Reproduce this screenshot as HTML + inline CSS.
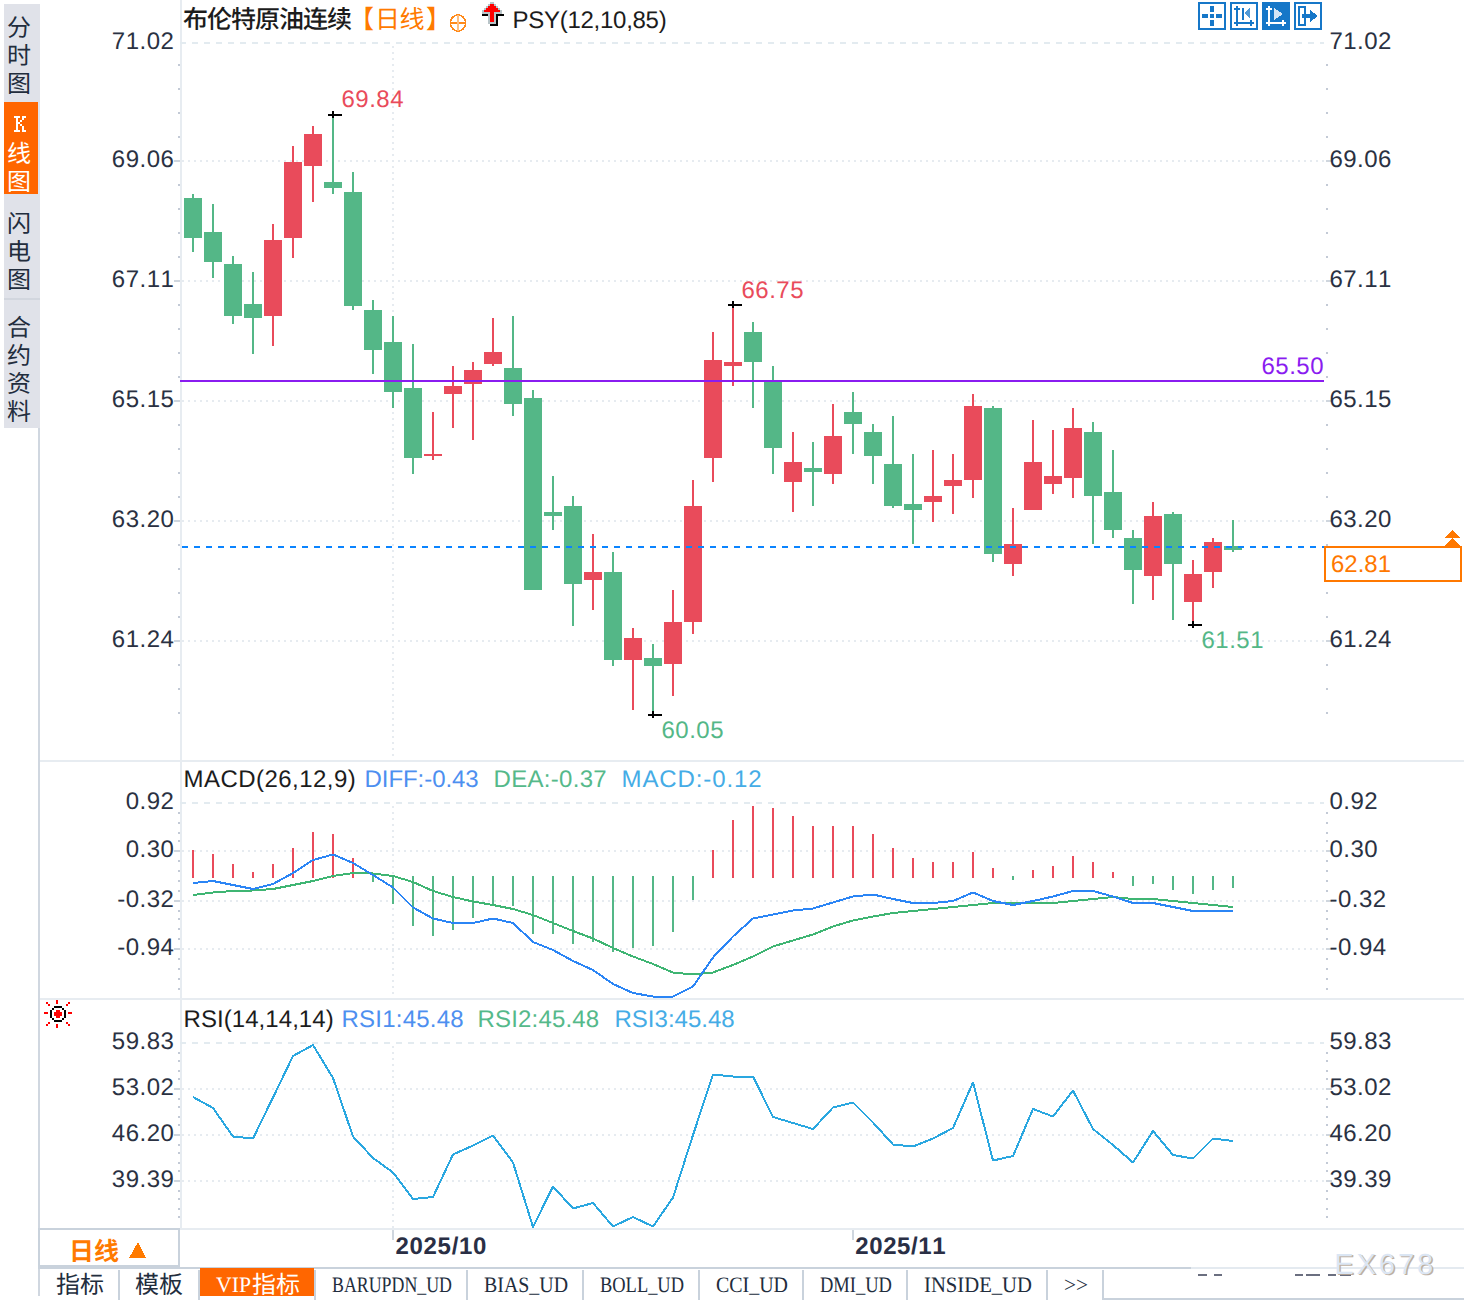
<!DOCTYPE html>
<html><head><meta charset="utf-8"><title>chart</title>
<style>html,body{margin:0;padding:0;background:#fff;}body{width:1464px;height:1300px;overflow:hidden;font-family:"Liberation Sans",sans-serif;}svg{display:block}</style>
</head><body><svg width="1464" height="1300" viewBox="0 0 1464 1300" shape-rendering="crispEdges" text-rendering="geometricPrecision"><rect x="0" y="0" width="1464" height="1300" fill="#ffffff"/>
<rect x="4" y="4" width="36" height="424" fill="#e0e2e9"/>
<rect x="4" y="298" width="36" height="2" fill="#d2d6de"/>
<rect x="4" y="102" width="34" height="92" fill="#ff6600"/>
<rect x="38" y="102" width="2" height="92" fill="#dde4ee"/>
<rect x="38" y="428" width="2" height="868" fill="#d0d7e0"/>
<text x="7" y="36" font-family="Liberation Sans, Noto Sans CJK SC, sans-serif" font-size="24" fill="#222d3d" text-anchor="start">分</text>
<text x="7" y="64" font-family="Liberation Sans, Noto Sans CJK SC, sans-serif" font-size="24" fill="#222d3d" text-anchor="start">时</text>
<text x="7" y="92" font-family="Liberation Sans, Noto Sans CJK SC, sans-serif" font-size="24" fill="#222d3d" text-anchor="start">图</text>
<text x="7" y="162" font-family="Liberation Sans, Noto Sans CJK SC, sans-serif" font-size="24" fill="#ffffff" text-anchor="start">线</text>
<text x="7" y="190" font-family="Liberation Sans, Noto Sans CJK SC, sans-serif" font-size="24" fill="#ffffff" text-anchor="start">图</text>
<text x="7" y="232" font-family="Liberation Sans, Noto Sans CJK SC, sans-serif" font-size="24" fill="#222d3d" text-anchor="start">闪</text>
<text x="7" y="260" font-family="Liberation Sans, Noto Sans CJK SC, sans-serif" font-size="24" fill="#222d3d" text-anchor="start">电</text>
<text x="7" y="288" font-family="Liberation Sans, Noto Sans CJK SC, sans-serif" font-size="24" fill="#222d3d" text-anchor="start">图</text>
<text x="7" y="336" font-family="Liberation Sans, Noto Sans CJK SC, sans-serif" font-size="24" fill="#222d3d" text-anchor="start">合</text>
<text x="7" y="364" font-family="Liberation Sans, Noto Sans CJK SC, sans-serif" font-size="24" fill="#222d3d" text-anchor="start">约</text>
<text x="7" y="392" font-family="Liberation Sans, Noto Sans CJK SC, sans-serif" font-size="24" fill="#222d3d" text-anchor="start">资</text>
<text x="7" y="420" font-family="Liberation Sans, Noto Sans CJK SC, sans-serif" font-size="24" fill="#222d3d" text-anchor="start">料</text>
<rect x="180" y="0" width="2" height="1228" fill="#e7ecf1"/>
<rect x="40" y="760" width="1424" height="2" fill="#e7ecf1"/>
<rect x="40" y="998" width="1424" height="2" fill="#e7ecf1"/>
<rect x="40" y="1228" width="1424" height="2" fill="#e7ecf1"/>
<line x1="180" y1="43" x2="1324" y2="43" stroke="#e3ebf0" stroke-width="2" stroke-dasharray="6 6"/>
<line x1="182" y1="161" x2="1324" y2="161" stroke="#e6ebf0" stroke-width="2" stroke-dasharray="2 4"/>
<line x1="182" y1="281" x2="1324" y2="281" stroke="#e6ebf0" stroke-width="2" stroke-dasharray="2 4"/>
<line x1="182" y1="401" x2="1324" y2="401" stroke="#e6ebf0" stroke-width="2" stroke-dasharray="2 4"/>
<line x1="182" y1="521" x2="1324" y2="521" stroke="#e6ebf0" stroke-width="2" stroke-dasharray="2 4"/>
<line x1="182" y1="641" x2="1324" y2="641" stroke="#e6ebf0" stroke-width="2" stroke-dasharray="2 4"/>
<line x1="180" y1="803" x2="1324" y2="803" stroke="#e3ebf0" stroke-width="2" stroke-dasharray="6 6"/>
<line x1="182" y1="851" x2="1324" y2="851" stroke="#e6ebf0" stroke-width="2" stroke-dasharray="2 4"/>
<line x1="182" y1="901" x2="1324" y2="901" stroke="#e6ebf0" stroke-width="2" stroke-dasharray="2 4"/>
<line x1="182" y1="949" x2="1324" y2="949" stroke="#e6ebf0" stroke-width="2" stroke-dasharray="2 4"/>
<line x1="180" y1="1043" x2="1324" y2="1043" stroke="#e3ebf0" stroke-width="2" stroke-dasharray="6 6"/>
<line x1="182" y1="1089" x2="1324" y2="1089" stroke="#e6ebf0" stroke-width="2" stroke-dasharray="2 4"/>
<line x1="182" y1="1135" x2="1324" y2="1135" stroke="#e6ebf0" stroke-width="2" stroke-dasharray="2 4"/>
<line x1="182" y1="1181" x2="1324" y2="1181" stroke="#e6ebf0" stroke-width="2" stroke-dasharray="2 4"/>
<line x1="393" y1="46" x2="393" y2="760" stroke="#e6ebf0" stroke-width="2" stroke-dasharray="2 4"/>
<line x1="393" y1="806" x2="393" y2="998" stroke="#e6ebf0" stroke-width="2" stroke-dasharray="2 4"/>
<line x1="393" y1="1046" x2="393" y2="1228" stroke="#e6ebf0" stroke-width="2" stroke-dasharray="2 4"/>
<rect x="178" y="64" width="2" height="2" fill="#c3cad6"/>
<rect x="1326" y="64" width="2" height="2" fill="#c3cad6"/>
<rect x="178" y="88" width="2" height="2" fill="#c3cad6"/>
<rect x="1326" y="88" width="2" height="2" fill="#c3cad6"/>
<rect x="178" y="112" width="2" height="2" fill="#c3cad6"/>
<rect x="1326" y="112" width="2" height="2" fill="#c3cad6"/>
<rect x="178" y="136" width="2" height="2" fill="#c3cad6"/>
<rect x="1326" y="136" width="2" height="2" fill="#c3cad6"/>
<rect x="174" y="160" width="6" height="2" fill="#cfd6de"/>
<rect x="1326" y="160" width="6" height="2" fill="#cfd6de"/>
<rect x="178" y="184" width="2" height="2" fill="#c3cad6"/>
<rect x="1326" y="184" width="2" height="2" fill="#c3cad6"/>
<rect x="178" y="208" width="2" height="2" fill="#c3cad6"/>
<rect x="1326" y="208" width="2" height="2" fill="#c3cad6"/>
<rect x="178" y="232" width="2" height="2" fill="#c3cad6"/>
<rect x="1326" y="232" width="2" height="2" fill="#c3cad6"/>
<rect x="178" y="256" width="2" height="2" fill="#c3cad6"/>
<rect x="1326" y="256" width="2" height="2" fill="#c3cad6"/>
<rect x="174" y="280" width="6" height="2" fill="#cfd6de"/>
<rect x="1326" y="280" width="6" height="2" fill="#cfd6de"/>
<rect x="178" y="304" width="2" height="2" fill="#c3cad6"/>
<rect x="1326" y="304" width="2" height="2" fill="#c3cad6"/>
<rect x="178" y="328" width="2" height="2" fill="#c3cad6"/>
<rect x="1326" y="328" width="2" height="2" fill="#c3cad6"/>
<rect x="178" y="352" width="2" height="2" fill="#c3cad6"/>
<rect x="1326" y="352" width="2" height="2" fill="#c3cad6"/>
<rect x="178" y="376" width="2" height="2" fill="#c3cad6"/>
<rect x="1326" y="376" width="2" height="2" fill="#c3cad6"/>
<rect x="174" y="400" width="6" height="2" fill="#cfd6de"/>
<rect x="1326" y="400" width="6" height="2" fill="#cfd6de"/>
<rect x="178" y="424" width="2" height="2" fill="#c3cad6"/>
<rect x="1326" y="424" width="2" height="2" fill="#c3cad6"/>
<rect x="178" y="448" width="2" height="2" fill="#c3cad6"/>
<rect x="1326" y="448" width="2" height="2" fill="#c3cad6"/>
<rect x="178" y="472" width="2" height="2" fill="#c3cad6"/>
<rect x="1326" y="472" width="2" height="2" fill="#c3cad6"/>
<rect x="178" y="496" width="2" height="2" fill="#c3cad6"/>
<rect x="1326" y="496" width="2" height="2" fill="#c3cad6"/>
<rect x="174" y="520" width="6" height="2" fill="#cfd6de"/>
<rect x="1326" y="520" width="6" height="2" fill="#cfd6de"/>
<rect x="178" y="544" width="2" height="2" fill="#c3cad6"/>
<rect x="1326" y="544" width="2" height="2" fill="#c3cad6"/>
<rect x="178" y="568" width="2" height="2" fill="#c3cad6"/>
<rect x="1326" y="568" width="2" height="2" fill="#c3cad6"/>
<rect x="178" y="592" width="2" height="2" fill="#c3cad6"/>
<rect x="1326" y="592" width="2" height="2" fill="#c3cad6"/>
<rect x="178" y="616" width="2" height="2" fill="#c3cad6"/>
<rect x="1326" y="616" width="2" height="2" fill="#c3cad6"/>
<rect x="174" y="640" width="6" height="2" fill="#cfd6de"/>
<rect x="1326" y="640" width="6" height="2" fill="#cfd6de"/>
<rect x="178" y="664" width="2" height="2" fill="#c3cad6"/>
<rect x="1326" y="664" width="2" height="2" fill="#c3cad6"/>
<rect x="178" y="688" width="2" height="2" fill="#c3cad6"/>
<rect x="1326" y="688" width="2" height="2" fill="#c3cad6"/>
<rect x="178" y="712" width="2" height="2" fill="#c3cad6"/>
<rect x="1326" y="712" width="2" height="2" fill="#c3cad6"/>
<rect x="178" y="812" width="2" height="2" fill="#c3cad6"/>
<rect x="1326" y="812" width="2" height="2" fill="#c3cad6"/>
<rect x="178" y="822" width="2" height="2" fill="#c3cad6"/>
<rect x="1326" y="822" width="2" height="2" fill="#c3cad6"/>
<rect x="178" y="832" width="2" height="2" fill="#c3cad6"/>
<rect x="1326" y="832" width="2" height="2" fill="#c3cad6"/>
<rect x="178" y="840" width="2" height="2" fill="#c3cad6"/>
<rect x="1326" y="840" width="2" height="2" fill="#c3cad6"/>
<rect x="174" y="850" width="6" height="2" fill="#cfd6de"/>
<rect x="1326" y="850" width="6" height="2" fill="#cfd6de"/>
<rect x="178" y="860" width="2" height="2" fill="#c3cad6"/>
<rect x="1326" y="860" width="2" height="2" fill="#c3cad6"/>
<rect x="178" y="870" width="2" height="2" fill="#c3cad6"/>
<rect x="1326" y="870" width="2" height="2" fill="#c3cad6"/>
<rect x="178" y="880" width="2" height="2" fill="#c3cad6"/>
<rect x="1326" y="880" width="2" height="2" fill="#c3cad6"/>
<rect x="178" y="890" width="2" height="2" fill="#c3cad6"/>
<rect x="1326" y="890" width="2" height="2" fill="#c3cad6"/>
<rect x="174" y="900" width="6" height="2" fill="#cfd6de"/>
<rect x="1326" y="900" width="6" height="2" fill="#cfd6de"/>
<rect x="178" y="910" width="2" height="2" fill="#c3cad6"/>
<rect x="1326" y="910" width="2" height="2" fill="#c3cad6"/>
<rect x="178" y="918" width="2" height="2" fill="#c3cad6"/>
<rect x="1326" y="918" width="2" height="2" fill="#c3cad6"/>
<rect x="178" y="928" width="2" height="2" fill="#c3cad6"/>
<rect x="1326" y="928" width="2" height="2" fill="#c3cad6"/>
<rect x="178" y="938" width="2" height="2" fill="#c3cad6"/>
<rect x="1326" y="938" width="2" height="2" fill="#c3cad6"/>
<rect x="174" y="948" width="6" height="2" fill="#cfd6de"/>
<rect x="1326" y="948" width="6" height="2" fill="#cfd6de"/>
<rect x="178" y="958" width="2" height="2" fill="#c3cad6"/>
<rect x="1326" y="958" width="2" height="2" fill="#c3cad6"/>
<rect x="178" y="968" width="2" height="2" fill="#c3cad6"/>
<rect x="1326" y="968" width="2" height="2" fill="#c3cad6"/>
<rect x="178" y="978" width="2" height="2" fill="#c3cad6"/>
<rect x="1326" y="978" width="2" height="2" fill="#c3cad6"/>
<rect x="178" y="988" width="2" height="2" fill="#c3cad6"/>
<rect x="1326" y="988" width="2" height="2" fill="#c3cad6"/>
<rect x="178" y="1052" width="2" height="2" fill="#c3cad6"/>
<rect x="1326" y="1052" width="2" height="2" fill="#c3cad6"/>
<rect x="178" y="1060" width="2" height="2" fill="#c3cad6"/>
<rect x="1326" y="1060" width="2" height="2" fill="#c3cad6"/>
<rect x="178" y="1070" width="2" height="2" fill="#c3cad6"/>
<rect x="1326" y="1070" width="2" height="2" fill="#c3cad6"/>
<rect x="178" y="1078" width="2" height="2" fill="#c3cad6"/>
<rect x="1326" y="1078" width="2" height="2" fill="#c3cad6"/>
<rect x="174" y="1088" width="6" height="2" fill="#cfd6de"/>
<rect x="1326" y="1088" width="6" height="2" fill="#cfd6de"/>
<rect x="178" y="1098" width="2" height="2" fill="#c3cad6"/>
<rect x="1326" y="1098" width="2" height="2" fill="#c3cad6"/>
<rect x="178" y="1106" width="2" height="2" fill="#c3cad6"/>
<rect x="1326" y="1106" width="2" height="2" fill="#c3cad6"/>
<rect x="178" y="1116" width="2" height="2" fill="#c3cad6"/>
<rect x="1326" y="1116" width="2" height="2" fill="#c3cad6"/>
<rect x="178" y="1124" width="2" height="2" fill="#c3cad6"/>
<rect x="1326" y="1124" width="2" height="2" fill="#c3cad6"/>
<rect x="174" y="1134" width="6" height="2" fill="#cfd6de"/>
<rect x="1326" y="1134" width="6" height="2" fill="#cfd6de"/>
<rect x="178" y="1144" width="2" height="2" fill="#c3cad6"/>
<rect x="1326" y="1144" width="2" height="2" fill="#c3cad6"/>
<rect x="178" y="1152" width="2" height="2" fill="#c3cad6"/>
<rect x="1326" y="1152" width="2" height="2" fill="#c3cad6"/>
<rect x="178" y="1162" width="2" height="2" fill="#c3cad6"/>
<rect x="1326" y="1162" width="2" height="2" fill="#c3cad6"/>
<rect x="178" y="1170" width="2" height="2" fill="#c3cad6"/>
<rect x="1326" y="1170" width="2" height="2" fill="#c3cad6"/>
<rect x="174" y="1180" width="6" height="2" fill="#cfd6de"/>
<rect x="1326" y="1180" width="6" height="2" fill="#cfd6de"/>
<rect x="178" y="1190" width="2" height="2" fill="#c3cad6"/>
<rect x="1326" y="1190" width="2" height="2" fill="#c3cad6"/>
<rect x="178" y="1198" width="2" height="2" fill="#c3cad6"/>
<rect x="1326" y="1198" width="2" height="2" fill="#c3cad6"/>
<rect x="178" y="1208" width="2" height="2" fill="#c3cad6"/>
<rect x="1326" y="1208" width="2" height="2" fill="#c3cad6"/>
<rect x="178" y="1216" width="2" height="2" fill="#c3cad6"/>
<rect x="1326" y="1216" width="2" height="2" fill="#c3cad6"/>
<text x="174.4" y="49.1" font-family="Liberation Sans, sans-serif" font-size="24" fill="#2a3142" text-anchor="end" font-weight="normal" style="font-kerning:none" letter-spacing="0.5">71.02</text>
<text x="1329.4" y="49.1" font-family="Liberation Sans, sans-serif" font-size="24" fill="#2a3142" text-anchor="start" font-weight="normal" style="font-kerning:none" letter-spacing="0.5">71.02</text>
<text x="174.4" y="167.1" font-family="Liberation Sans, sans-serif" font-size="24" fill="#2a3142" text-anchor="end" font-weight="normal" style="font-kerning:none" letter-spacing="0.5">69.06</text>
<text x="1329.4" y="167.1" font-family="Liberation Sans, sans-serif" font-size="24" fill="#2a3142" text-anchor="start" font-weight="normal" style="font-kerning:none" letter-spacing="0.5">69.06</text>
<text x="174.4" y="287.1" font-family="Liberation Sans, sans-serif" font-size="24" fill="#2a3142" text-anchor="end" font-weight="normal" style="font-kerning:none" letter-spacing="0.5">67.11</text>
<text x="1329.4" y="287.1" font-family="Liberation Sans, sans-serif" font-size="24" fill="#2a3142" text-anchor="start" font-weight="normal" style="font-kerning:none" letter-spacing="0.5">67.11</text>
<text x="174.4" y="407.1" font-family="Liberation Sans, sans-serif" font-size="24" fill="#2a3142" text-anchor="end" font-weight="normal" style="font-kerning:none" letter-spacing="0.5">65.15</text>
<text x="1329.4" y="407.1" font-family="Liberation Sans, sans-serif" font-size="24" fill="#2a3142" text-anchor="start" font-weight="normal" style="font-kerning:none" letter-spacing="0.5">65.15</text>
<text x="174.4" y="527.1" font-family="Liberation Sans, sans-serif" font-size="24" fill="#2a3142" text-anchor="end" font-weight="normal" style="font-kerning:none" letter-spacing="0.5">63.20</text>
<text x="1329.4" y="527.1" font-family="Liberation Sans, sans-serif" font-size="24" fill="#2a3142" text-anchor="start" font-weight="normal" style="font-kerning:none" letter-spacing="0.5">63.20</text>
<text x="174.4" y="647.1" font-family="Liberation Sans, sans-serif" font-size="24" fill="#2a3142" text-anchor="end" font-weight="normal" style="font-kerning:none" letter-spacing="0.5">61.24</text>
<text x="1329.4" y="647.1" font-family="Liberation Sans, sans-serif" font-size="24" fill="#2a3142" text-anchor="start" font-weight="normal" style="font-kerning:none" letter-spacing="0.5">61.24</text>
<text x="174.4" y="809.1" font-family="Liberation Sans, sans-serif" font-size="24" fill="#2a3142" text-anchor="end" font-weight="normal" style="font-kerning:none" letter-spacing="0.5">0.92</text>
<text x="1329.4" y="809.1" font-family="Liberation Sans, sans-serif" font-size="24" fill="#2a3142" text-anchor="start" font-weight="normal" style="font-kerning:none" letter-spacing="0.5">0.92</text>
<text x="174.4" y="857.1" font-family="Liberation Sans, sans-serif" font-size="24" fill="#2a3142" text-anchor="end" font-weight="normal" style="font-kerning:none" letter-spacing="0.5">0.30</text>
<text x="1329.4" y="857.1" font-family="Liberation Sans, sans-serif" font-size="24" fill="#2a3142" text-anchor="start" font-weight="normal" style="font-kerning:none" letter-spacing="0.5">0.30</text>
<text x="174.4" y="907.1" font-family="Liberation Sans, sans-serif" font-size="24" fill="#2a3142" text-anchor="end" font-weight="normal" style="font-kerning:none" letter-spacing="0.5">-0.32</text>
<text x="1329.4" y="907.1" font-family="Liberation Sans, sans-serif" font-size="24" fill="#2a3142" text-anchor="start" font-weight="normal" style="font-kerning:none" letter-spacing="0.5">-0.32</text>
<text x="174.4" y="955.1" font-family="Liberation Sans, sans-serif" font-size="24" fill="#2a3142" text-anchor="end" font-weight="normal" style="font-kerning:none" letter-spacing="0.5">-0.94</text>
<text x="1329.4" y="955.1" font-family="Liberation Sans, sans-serif" font-size="24" fill="#2a3142" text-anchor="start" font-weight="normal" style="font-kerning:none" letter-spacing="0.5">-0.94</text>
<text x="174.4" y="1049.1" font-family="Liberation Sans, sans-serif" font-size="24" fill="#2a3142" text-anchor="end" font-weight="normal" style="font-kerning:none" letter-spacing="0.5">59.83</text>
<text x="1329.4" y="1049.1" font-family="Liberation Sans, sans-serif" font-size="24" fill="#2a3142" text-anchor="start" font-weight="normal" style="font-kerning:none" letter-spacing="0.5">59.83</text>
<text x="174.4" y="1095.1" font-family="Liberation Sans, sans-serif" font-size="24" fill="#2a3142" text-anchor="end" font-weight="normal" style="font-kerning:none" letter-spacing="0.5">53.02</text>
<text x="1329.4" y="1095.1" font-family="Liberation Sans, sans-serif" font-size="24" fill="#2a3142" text-anchor="start" font-weight="normal" style="font-kerning:none" letter-spacing="0.5">53.02</text>
<text x="174.4" y="1141.1" font-family="Liberation Sans, sans-serif" font-size="24" fill="#2a3142" text-anchor="end" font-weight="normal" style="font-kerning:none" letter-spacing="0.5">46.20</text>
<text x="1329.4" y="1141.1" font-family="Liberation Sans, sans-serif" font-size="24" fill="#2a3142" text-anchor="start" font-weight="normal" style="font-kerning:none" letter-spacing="0.5">46.20</text>
<text x="174.4" y="1187.1" font-family="Liberation Sans, sans-serif" font-size="24" fill="#2a3142" text-anchor="end" font-weight="normal" style="font-kerning:none" letter-spacing="0.5">39.39</text>
<text x="1329.4" y="1187.1" font-family="Liberation Sans, sans-serif" font-size="24" fill="#2a3142" text-anchor="start" font-weight="normal" style="font-kerning:none" letter-spacing="0.5">39.39</text>
<rect x="192" y="194" width="2" height="58" fill="#54b787"/>
<rect x="184" y="198" width="18" height="40" fill="#54b787"/>
<rect x="212" y="204" width="2" height="74" fill="#54b787"/>
<rect x="204" y="232" width="18" height="30" fill="#54b787"/>
<rect x="232" y="256" width="2" height="68" fill="#54b787"/>
<rect x="224" y="264" width="18" height="52" fill="#54b787"/>
<rect x="252" y="272" width="2" height="82" fill="#54b787"/>
<rect x="244" y="304" width="18" height="14" fill="#54b787"/>
<rect x="272" y="224" width="2" height="122" fill="#e94b5b"/>
<rect x="264" y="240" width="18" height="76" fill="#e94b5b"/>
<rect x="292" y="146" width="2" height="112" fill="#e94b5b"/>
<rect x="284" y="162" width="18" height="76" fill="#e94b5b"/>
<rect x="312" y="126" width="2" height="76" fill="#e94b5b"/>
<rect x="304" y="134" width="18" height="32" fill="#e94b5b"/>
<rect x="332" y="115" width="2" height="79" fill="#54b787"/>
<rect x="324" y="182" width="18" height="6" fill="#54b787"/>
<rect x="352" y="172" width="2" height="138" fill="#54b787"/>
<rect x="344" y="192" width="18" height="114" fill="#54b787"/>
<rect x="372" y="300" width="2" height="74" fill="#54b787"/>
<rect x="364" y="310" width="18" height="40" fill="#54b787"/>
<rect x="392" y="316" width="2" height="92" fill="#54b787"/>
<rect x="384" y="342" width="18" height="50" fill="#54b787"/>
<rect x="412" y="344" width="2" height="130" fill="#54b787"/>
<rect x="404" y="388" width="18" height="70" fill="#54b787"/>
<rect x="432" y="412" width="2" height="48" fill="#e94b5b"/>
<rect x="424" y="454" width="18" height="2" fill="#e94b5b"/>
<rect x="452" y="366" width="2" height="62" fill="#e94b5b"/>
<rect x="444" y="386" width="18" height="8" fill="#e94b5b"/>
<rect x="472" y="362" width="2" height="78" fill="#e94b5b"/>
<rect x="464" y="370" width="18" height="14" fill="#e94b5b"/>
<rect x="492" y="318" width="2" height="48" fill="#e94b5b"/>
<rect x="484" y="352" width="18" height="12" fill="#e94b5b"/>
<rect x="512" y="316" width="2" height="100" fill="#54b787"/>
<rect x="504" y="368" width="18" height="36" fill="#54b787"/>
<rect x="532" y="390" width="2" height="200" fill="#54b787"/>
<rect x="524" y="398" width="18" height="192" fill="#54b787"/>
<rect x="552" y="476" width="2" height="54" fill="#54b787"/>
<rect x="544" y="512" width="18" height="4" fill="#54b787"/>
<rect x="572" y="496" width="2" height="130" fill="#54b787"/>
<rect x="564" y="506" width="18" height="78" fill="#54b787"/>
<rect x="592" y="534" width="2" height="76" fill="#e94b5b"/>
<rect x="584" y="572" width="18" height="8" fill="#e94b5b"/>
<rect x="612" y="552" width="2" height="114" fill="#54b787"/>
<rect x="604" y="572" width="18" height="88" fill="#54b787"/>
<rect x="632" y="628" width="2" height="82" fill="#e94b5b"/>
<rect x="624" y="638" width="18" height="22" fill="#e94b5b"/>
<rect x="652" y="644" width="2" height="71" fill="#54b787"/>
<rect x="644" y="658" width="18" height="8" fill="#54b787"/>
<rect x="672" y="590" width="2" height="106" fill="#e94b5b"/>
<rect x="664" y="622" width="18" height="42" fill="#e94b5b"/>
<rect x="692" y="480" width="2" height="154" fill="#e94b5b"/>
<rect x="684" y="506" width="18" height="116" fill="#e94b5b"/>
<rect x="712" y="332" width="2" height="150" fill="#e94b5b"/>
<rect x="704" y="360" width="18" height="98" fill="#e94b5b"/>
<rect x="732" y="305" width="2" height="81" fill="#e94b5b"/>
<rect x="724" y="362" width="18" height="4" fill="#e94b5b"/>
<rect x="752" y="322" width="2" height="86" fill="#54b787"/>
<rect x="744" y="332" width="18" height="30" fill="#54b787"/>
<rect x="772" y="366" width="2" height="108" fill="#54b787"/>
<rect x="764" y="382" width="18" height="66" fill="#54b787"/>
<rect x="792" y="432" width="2" height="80" fill="#e94b5b"/>
<rect x="784" y="462" width="18" height="20" fill="#e94b5b"/>
<rect x="812" y="442" width="2" height="64" fill="#54b787"/>
<rect x="804" y="468" width="18" height="4" fill="#54b787"/>
<rect x="832" y="404" width="2" height="80" fill="#e94b5b"/>
<rect x="824" y="436" width="18" height="38" fill="#e94b5b"/>
<rect x="852" y="392" width="2" height="62" fill="#54b787"/>
<rect x="844" y="412" width="18" height="12" fill="#54b787"/>
<rect x="872" y="424" width="2" height="60" fill="#54b787"/>
<rect x="864" y="432" width="18" height="24" fill="#54b787"/>
<rect x="892" y="416" width="2" height="92" fill="#54b787"/>
<rect x="884" y="464" width="18" height="42" fill="#54b787"/>
<rect x="912" y="454" width="2" height="90" fill="#54b787"/>
<rect x="904" y="504" width="18" height="6" fill="#54b787"/>
<rect x="932" y="450" width="2" height="72" fill="#e94b5b"/>
<rect x="924" y="496" width="18" height="6" fill="#e94b5b"/>
<rect x="952" y="454" width="2" height="60" fill="#e94b5b"/>
<rect x="944" y="480" width="18" height="6" fill="#e94b5b"/>
<rect x="972" y="394" width="2" height="104" fill="#e94b5b"/>
<rect x="964" y="406" width="18" height="74" fill="#e94b5b"/>
<rect x="992" y="406" width="2" height="156" fill="#54b787"/>
<rect x="984" y="408" width="18" height="146" fill="#54b787"/>
<rect x="1012" y="508" width="2" height="68" fill="#e94b5b"/>
<rect x="1004" y="544" width="18" height="20" fill="#e94b5b"/>
<rect x="1032" y="420" width="2" height="90" fill="#e94b5b"/>
<rect x="1024" y="462" width="18" height="48" fill="#e94b5b"/>
<rect x="1052" y="430" width="2" height="64" fill="#e94b5b"/>
<rect x="1044" y="476" width="18" height="8" fill="#e94b5b"/>
<rect x="1072" y="408" width="2" height="90" fill="#e94b5b"/>
<rect x="1064" y="428" width="18" height="50" fill="#e94b5b"/>
<rect x="1092" y="422" width="2" height="122" fill="#54b787"/>
<rect x="1084" y="432" width="18" height="64" fill="#54b787"/>
<rect x="1112" y="450" width="2" height="88" fill="#54b787"/>
<rect x="1104" y="492" width="18" height="38" fill="#54b787"/>
<rect x="1132" y="530" width="2" height="74" fill="#54b787"/>
<rect x="1124" y="538" width="18" height="32" fill="#54b787"/>
<rect x="1152" y="502" width="2" height="98" fill="#e94b5b"/>
<rect x="1144" y="516" width="18" height="60" fill="#e94b5b"/>
<rect x="1172" y="512" width="2" height="108" fill="#54b787"/>
<rect x="1164" y="514" width="18" height="50" fill="#54b787"/>
<rect x="1192" y="560" width="2" height="65" fill="#e94b5b"/>
<rect x="1184" y="574" width="18" height="28" fill="#e94b5b"/>
<rect x="1212" y="538" width="2" height="50" fill="#e94b5b"/>
<rect x="1204" y="542" width="18" height="30" fill="#e94b5b"/>
<rect x="1232" y="520" width="2" height="32" fill="#54b787"/>
<rect x="1224" y="546" width="18" height="4" fill="#54b787"/>
<rect x="180" y="380" width="1144" height="2" fill="#8a1cf0"/>
<text x="1324" y="374" font-family="Liberation Sans, sans-serif" font-size="24" fill="#8a1cf0" text-anchor="end" font-weight="normal" style="font-kerning:none" letter-spacing="0.5">65.50</text>
<line x1="182" y1="547" x2="1324" y2="547" stroke="#0a84ff" stroke-width="2" stroke-dasharray="6 6"/>
<rect x="328" y="114" width="14" height="2" fill="#000"/>
<rect x="332" y="111" width="2" height="7" fill="#000"/>
<rect x="728" y="304" width="14" height="2" fill="#000"/>
<rect x="732" y="301" width="2" height="7" fill="#000"/>
<rect x="648" y="714" width="14" height="2" fill="#000"/>
<rect x="652" y="711" width="2" height="7" fill="#000"/>
<rect x="1188" y="624" width="14" height="2" fill="#000"/>
<rect x="1192" y="621" width="2" height="7" fill="#000"/>
<text x="341.5" y="107" font-family="Liberation Sans, sans-serif" font-size="24" fill="#e94b5b" text-anchor="start" font-weight="normal" style="font-kerning:none" letter-spacing="0.5">69.84</text>
<text x="741.5" y="297.5" font-family="Liberation Sans, sans-serif" font-size="24" fill="#e94b5b" text-anchor="start" font-weight="normal" style="font-kerning:none" letter-spacing="0.5">66.75</text>
<text x="661.5" y="737.5" font-family="Liberation Sans, sans-serif" font-size="24" fill="#54b787" text-anchor="start" font-weight="normal" style="font-kerning:none" letter-spacing="0.5">60.05</text>
<text x="1201.5" y="647.5" font-family="Liberation Sans, sans-serif" font-size="24" fill="#54b787" text-anchor="start" font-weight="normal" style="font-kerning:none" letter-spacing="0.5">61.51</text>
<rect x="1325" y="547" width="136" height="34" fill="#fff" stroke="#ff7800" stroke-width="2"/>
<text x="1331" y="572" font-family="Liberation Sans, sans-serif" font-size="24" fill="#ff7800" text-anchor="start" font-weight="normal" style="font-kerning:none">62.81</text>
<path d="M1452 530 L1460 538 H1444 Z M1452 538 L1460 546 H1444 Z" fill="#ff7800"/>
<text x="183 207 231 255 279 303 327" y="28.3" font-family="Liberation Sans, Noto Sans CJK SC, sans-serif" font-size="25" fill="#1c1c1c" text-anchor="start" font-weight="500" shape-rendering="geometricPrecision">布伦特原油连续</text>
<text x="349 375 399.5 426" y="28.3" font-family="Liberation Sans, Noto Sans CJK SC, sans-serif" font-size="25" fill="#ff7a00" text-anchor="start" shape-rendering="geometricPrecision">【日线】</text>
<ellipse cx="458" cy="23" rx="7.6" ry="8.2" fill="none" stroke="#ff8a1a" stroke-width="1.6"/>
<rect x="451" y="22" width="14" height="2" fill="#ff8a1a"/>
<rect x="457" y="15" width="2" height="16" fill="#ffbf80"/>
<text x="512.5" y="27.6" font-family="Liberation Sans, sans-serif" font-size="24" fill="#1c1c1c" text-anchor="start" font-weight="normal" style="font-kerning:none" textLength="154.2" lengthAdjust="spacing">PSY(12,10,85)</text>
<rect x="14" y="116" width="6" height="2" fill="#ffffff"/>
<rect x="22" y="116" width="4" height="2" fill="#ffffff"/>
<rect x="16" y="118" width="2" height="2" fill="#ffffff"/>
<rect x="22" y="118" width="2" height="2" fill="#ffffff"/>
<rect x="16" y="120" width="2" height="2" fill="#ffffff"/>
<rect x="20" y="120" width="2" height="2" fill="#ffffff"/>
<rect x="16" y="122" width="4" height="2" fill="#ffffff"/>
<rect x="16" y="124" width="2" height="2" fill="#ffffff"/>
<rect x="20" y="124" width="2" height="2" fill="#ffffff"/>
<rect x="16" y="126" width="2" height="2" fill="#ffffff"/>
<rect x="22" y="126" width="2" height="2" fill="#ffffff"/>
<rect x="16" y="128" width="2" height="2" fill="#ffffff"/>
<rect x="22" y="128" width="2" height="2" fill="#ffffff"/>
<rect x="14" y="130" width="6" height="2" fill="#ffffff"/>
<rect x="22" y="130" width="4" height="2" fill="#ffffff"/>
<rect x="490" y="2" width="4" height="2" fill="#b8c4c8"/>
<rect x="488" y="4" width="8" height="2" fill="#b8c4c8"/>
<rect x="486" y="6" width="12" height="2" fill="#b8c4c8"/>
<rect x="484" y="8" width="16" height="2" fill="#b8c4c8"/>
<rect x="482" y="10" width="20" height="2" fill="#b8c4c8"/>
<rect x="482" y="12" width="20" height="2" fill="#b8c4c8"/>
<rect x="488" y="14" width="8" height="2" fill="#b8c4c8"/>
<rect x="488" y="16" width="8" height="2" fill="#b8c4c8"/>
<rect x="488" y="18" width="8" height="2" fill="#b8c4c8"/>
<rect x="488" y="20" width="8" height="2" fill="#b8c4c8"/>
<rect x="488" y="22" width="8" height="2" fill="#b8c4c8"/>
<rect x="490" y="4" width="4" height="2" fill="#ff0000"/>
<rect x="488" y="6" width="8" height="2" fill="#ff0000"/>
<rect x="486" y="8" width="12" height="2" fill="#ff0000"/>
<rect x="484" y="10" width="16" height="2" fill="#ff0000"/>
<rect x="490" y="12" width="4" height="2" fill="#ff0000"/>
<rect x="490" y="14" width="4" height="2" fill="#ff0000"/>
<rect x="490" y="16" width="4" height="2" fill="#ff0000"/>
<rect x="490" y="18" width="4" height="2" fill="#ff0000"/>
<rect x="490" y="20" width="4" height="2" fill="#ff0000"/>
<rect x="482" y="14" width="6" height="2" fill="#000"/>
<rect x="496" y="14" width="8" height="2" fill="#000"/>
<rect x="496" y="16" width="2" height="2" fill="#000"/>
<rect x="496" y="18" width="2" height="2" fill="#000"/>
<rect x="496" y="20" width="2" height="2" fill="#000"/>
<rect x="496" y="22" width="2" height="2" fill="#000"/>
<rect x="490" y="24" width="8" height="2" fill="#000"/>
<rect x="1199" y="3" width="26" height="26" fill="#fff" stroke="#1677c8" stroke-width="2"/>
<rect x="1210" y="6" width="4" height="6" fill="#1677c8"/>
<rect x="1210" y="14" width="4" height="4" fill="#1677c8"/>
<rect x="1210" y="20" width="4" height="6" fill="#1677c8"/>
<rect x="1202" y="14" width="6" height="4" fill="#1677c8"/>
<rect x="1216" y="14" width="6" height="4" fill="#1677c8"/>
<rect x="1231" y="3" width="26" height="26" fill="#fff" stroke="#1677c8" stroke-width="2"/>
<rect x="1236" y="6" width="2" height="20" fill="#1677c8"/>
<rect x="1234" y="8" width="6" height="2" fill="#1677c8"/>
<rect x="1234" y="22" width="20" height="2" fill="#1677c8"/>
<rect x="1250" y="20" width="2" height="6" fill="#1677c8"/>
<rect x="1242" y="8" width="2" height="12" fill="#1677c8"/>
<path d="M1244 13 L1250 8 V18 Z" fill="#1677c8" opacity="0.75"/>
<rect x="1263" y="3" width="26" height="26" fill="#1677c8" stroke="#1677c8" stroke-width="2"/>
<rect x="1268" y="6" width="2" height="20" fill="#fff"/>
<rect x="1266" y="8" width="6" height="2" fill="#fff"/>
<rect x="1266" y="22" width="20" height="2" fill="#fff"/>
<rect x="1282" y="20" width="2" height="6" fill="#fff"/>
<path d="M1274 8 L1283 14 L1274 20 Z" fill="#d4e5f6"/>
<rect x="1295" y="3" width="26" height="26" fill="#fff" stroke="#1677c8" stroke-width="2"/>
<rect x="1299" y="7" width="6" height="18" fill="none" stroke="#1677c8" stroke-width="2"/>
<rect x="1302" y="14" width="12" height="4" fill="#1677c8"/>
<path d="M1310 10 L1318 16 L1310 22 Z" fill="#1677c8"/>
<text x="183.5" y="787.2" font-family="Liberation Sans, sans-serif" font-size="24" fill="#1c1c1c" text-anchor="start" font-weight="normal" style="font-kerning:none" textLength="172.2" lengthAdjust="spacing">MACD(26,12,9)</text>
<text x="364.5" y="787.2" font-family="Liberation Sans, sans-serif" font-size="24" fill="#4d8ff0" text-anchor="start" font-weight="normal" style="font-kerning:none" textLength="114.2" lengthAdjust="spacing">DIFF:-0.43</text>
<text x="493.5" y="787.2" font-family="Liberation Sans, sans-serif" font-size="24" fill="#55b98a" text-anchor="start" font-weight="normal" style="font-kerning:none" textLength="113.2" lengthAdjust="spacing">DEA:-0.37</text>
<text x="621.5" y="787.2" font-family="Liberation Sans, sans-serif" font-size="24" fill="#45ace6" text-anchor="start" font-weight="normal" style="font-kerning:none" textLength="140.2" lengthAdjust="spacing">MACD:-0.12</text>
<rect x="192" y="850" width="2" height="28" fill="#e94b5b"/>
<rect x="212" y="854" width="2" height="24" fill="#e94b5b"/>
<rect x="232" y="864" width="2" height="14" fill="#e94b5b"/>
<rect x="252" y="872" width="2" height="6" fill="#e94b5b"/>
<rect x="272" y="864" width="2" height="14" fill="#e94b5b"/>
<rect x="292" y="848" width="2" height="30" fill="#e94b5b"/>
<rect x="312" y="832" width="2" height="46" fill="#e94b5b"/>
<rect x="332" y="834" width="2" height="44" fill="#e94b5b"/>
<rect x="352" y="858" width="2" height="20" fill="#e94b5b"/>
<rect x="372" y="876" width="2" height="6" fill="#54b787"/>
<rect x="392" y="876" width="2" height="28" fill="#54b787"/>
<rect x="412" y="876" width="2" height="50" fill="#54b787"/>
<rect x="432" y="876" width="2" height="60" fill="#54b787"/>
<rect x="452" y="876" width="2" height="54" fill="#54b787"/>
<rect x="472" y="876" width="2" height="42" fill="#54b787"/>
<rect x="492" y="876" width="2" height="30" fill="#54b787"/>
<rect x="512" y="876" width="2" height="30" fill="#54b787"/>
<rect x="532" y="876" width="2" height="58" fill="#54b787"/>
<rect x="552" y="876" width="2" height="58" fill="#54b787"/>
<rect x="572" y="876" width="2" height="68" fill="#54b787"/>
<rect x="592" y="876" width="2" height="66" fill="#54b787"/>
<rect x="612" y="876" width="2" height="76" fill="#54b787"/>
<rect x="632" y="876" width="2" height="72" fill="#54b787"/>
<rect x="652" y="876" width="2" height="70" fill="#54b787"/>
<rect x="672" y="876" width="2" height="56" fill="#54b787"/>
<rect x="692" y="876" width="2" height="24" fill="#54b787"/>
<rect x="712" y="850" width="2" height="28" fill="#e94b5b"/>
<rect x="732" y="820" width="2" height="58" fill="#e94b5b"/>
<rect x="752" y="806" width="2" height="72" fill="#e94b5b"/>
<rect x="772" y="808" width="2" height="70" fill="#e94b5b"/>
<rect x="792" y="816" width="2" height="62" fill="#e94b5b"/>
<rect x="812" y="826" width="2" height="52" fill="#e94b5b"/>
<rect x="832" y="826" width="2" height="52" fill="#e94b5b"/>
<rect x="852" y="826" width="2" height="52" fill="#e94b5b"/>
<rect x="872" y="834" width="2" height="44" fill="#e94b5b"/>
<rect x="892" y="848" width="2" height="30" fill="#e94b5b"/>
<rect x="912" y="858" width="2" height="20" fill="#e94b5b"/>
<rect x="932" y="862" width="2" height="16" fill="#e94b5b"/>
<rect x="952" y="862" width="2" height="16" fill="#e94b5b"/>
<rect x="972" y="852" width="2" height="26" fill="#e94b5b"/>
<rect x="992" y="868" width="2" height="10" fill="#e94b5b"/>
<rect x="1012" y="876" width="2" height="4" fill="#54b787"/>
<rect x="1032" y="870" width="2" height="8" fill="#e94b5b"/>
<rect x="1052" y="866" width="2" height="12" fill="#e94b5b"/>
<rect x="1072" y="856" width="2" height="22" fill="#e94b5b"/>
<rect x="1092" y="862" width="2" height="16" fill="#e94b5b"/>
<rect x="1112" y="872" width="2" height="6" fill="#e94b5b"/>
<rect x="1132" y="876" width="2" height="10" fill="#54b787"/>
<rect x="1152" y="876" width="2" height="8" fill="#54b787"/>
<rect x="1172" y="876" width="2" height="14" fill="#54b787"/>
<rect x="1192" y="876" width="2" height="18" fill="#54b787"/>
<rect x="1212" y="876" width="2" height="14" fill="#54b787"/>
<rect x="1232" y="876" width="2" height="12" fill="#54b787"/>
<polyline points="193,895 213,892.5 233,891 253,890.5 273,889 293,885 313,881 333,876 353,873 373,873.5 393,876 413,882 433,891 453,897 473,901.5 493,905 513,909 533,915 553,923 573,931 593,938.5 613,948 633,956.5 653,964 673,972.5 693,974.5 713,972.5 733,965 753,956.5 773,946.5 793,940.5 813,934.5 833,926.5 853,920.5 873,916.5 893,913 913,911 933,909 953,907 973,905 993,903 1013,903 1033,903 1053,903 1073,901 1093,899 1113,897 1133,899 1153,899 1173,901 1193,903 1213,905 1233,907" fill="none" stroke="#3fb573" stroke-width="2" stroke-linejoin="round"/>
<polyline points="193,883 213,881 233,885 253,889 273,884 293,873 313,860 333,854.5 353,863 373,875 393,887.5 413,907.5 433,918.5 453,923 473,923 493,918.5 513,923 533,942 553,950 573,961 593,970 613,984 633,993 653,996.5 673,996.5 693,986.5 713,957.5 733,936.5 753,918.5 773,914.5 793,910.5 813,908.5 833,902.5 853,896.5 873,894.5 893,899 913,903 933,903 953,901 973,892.5 993,901 1013,905 1033,901 1053,896.5 1073,891 1093,891 1113,896.5 1133,903 1153,903 1173,907 1193,911 1213,911 1233,911" fill="none" stroke="#2b85f5" stroke-width="2" stroke-linejoin="round"/>
<text x="183.5" y="1027.2" font-family="Liberation Sans, sans-serif" font-size="24" fill="#1c1c1c" text-anchor="start" font-weight="normal" style="font-kerning:none" textLength="150.2" lengthAdjust="spacing">RSI(14,14,14)</text>
<text x="341.5" y="1027.2" font-family="Liberation Sans, sans-serif" font-size="24" fill="#4d8ff0" text-anchor="start" font-weight="normal" style="font-kerning:none" textLength="122.2" lengthAdjust="spacing">RSI1:45.48</text>
<text x="477.5" y="1027.2" font-family="Liberation Sans, sans-serif" font-size="24" fill="#55b98a" text-anchor="start" font-weight="normal" style="font-kerning:none" textLength="121.7" lengthAdjust="spacing">RSI2:45.48</text>
<text x="614.5" y="1027.2" font-family="Liberation Sans, sans-serif" font-size="24" fill="#45ace6" text-anchor="start" font-weight="normal" style="font-kerning:none" textLength="120.2" lengthAdjust="spacing">RSI3:45.48</text>
<polyline points="193,1097 213,1108 233,1136.5 253,1138.5 273,1097.5 293,1056 313,1045 333,1078 353,1136.5 373,1158 393,1172.5 413,1199 433,1197 453,1154.5 473,1145.5 493,1135.5 513,1162.5 533,1227 553,1186.5 573,1208.5 593,1203 613,1226.5 633,1217 653,1226.5 673,1197.5 693,1135 713,1074.5 733,1076.5 753,1076.5 773,1117 793,1123 813,1129 833,1107.5 853,1102.5 873,1122.5 893,1144.5 913,1146.5 933,1138.5 953,1128 973,1082.5 993,1160.5 1013,1156 1033,1109 1053,1116.5 1073,1090.5 1093,1129 1113,1145 1133,1162.5 1153,1131 1173,1155 1193,1158.5 1213,1138.5 1233,1141" fill="none" stroke="#2aa7e0" stroke-width="2" stroke-linejoin="round"/>
<rect x="56" y="1000" width="2" height="2" fill="#ff0000"/>
<rect x="56" y="1002" width="2" height="2" fill="#ff0000"/>
<rect x="56" y="1024" width="2" height="2" fill="#ff0000"/>
<rect x="56" y="1026" width="2" height="2" fill="#ff0000"/>
<rect x="44" y="1012" width="4" height="2" fill="#ff0000"/>
<rect x="68" y="1012" width="4" height="2" fill="#ff0000"/>
<rect x="46" y="1002" width="2" height="2" fill="#ff0000"/>
<rect x="48" y="1004" width="2" height="2" fill="#ff0000"/>
<rect x="68" y="1002" width="2" height="2" fill="#ff0000"/>
<rect x="66" y="1004" width="2" height="2" fill="#ff0000"/>
<rect x="48" y="1022" width="2" height="2" fill="#ff0000"/>
<rect x="46" y="1024" width="2" height="2" fill="#ff0000"/>
<rect x="66" y="1022" width="2" height="2" fill="#ff0000"/>
<rect x="68" y="1024" width="2" height="2" fill="#ff0000"/>
<rect x="56" y="1010" width="4" height="2" fill="#ff0000"/>
<rect x="54" y="1012" width="8" height="2" fill="#ff0000"/>
<rect x="54" y="1014" width="8" height="2" fill="#ff0000"/>
<rect x="56" y="1016" width="4" height="2" fill="#ff0000"/>
<rect x="54" y="1006" width="8" height="2" fill="#000"/>
<rect x="52" y="1008" width="2" height="2" fill="#000"/>
<rect x="62" y="1008" width="2" height="2" fill="#000"/>
<rect x="50" y="1010" width="2" height="2" fill="#000"/>
<rect x="50" y="1012" width="2" height="2" fill="#000"/>
<rect x="50" y="1014" width="2" height="2" fill="#000"/>
<rect x="50" y="1016" width="2" height="2" fill="#000"/>
<rect x="64" y="1010" width="2" height="2" fill="#000"/>
<rect x="64" y="1012" width="2" height="2" fill="#000"/>
<rect x="64" y="1014" width="2" height="2" fill="#000"/>
<rect x="64" y="1016" width="2" height="2" fill="#000"/>
<rect x="52" y="1018" width="2" height="2" fill="#000"/>
<rect x="62" y="1018" width="2" height="2" fill="#000"/>
<rect x="54" y="1020" width="8" height="2" fill="#000"/>
<rect x="392" y="1230" width="2" height="10" fill="#cfd6de"/>
<rect x="852" y="1230" width="2" height="10" fill="#cfd6de"/>
<text x="395.5" y="1254" font-family="Liberation Sans, sans-serif" font-size="24" fill="#2a2f45" text-anchor="start" font-weight="bold" style="font-kerning:none" textLength="90.9" lengthAdjust="spacing">2025/10</text>
<text x="855.2" y="1254" font-family="Liberation Sans, sans-serif" font-size="24" fill="#2a2f45" text-anchor="start" font-weight="bold" style="font-kerning:none" textLength="90.5" lengthAdjust="spacing">2025/11</text>
<rect x="39" y="1229" width="140" height="37" fill="#fff" stroke="#c9d2dc" stroke-width="2"/>
<text x="69 94" y="1259.8" font-family="Liberation Sans, Noto Sans CJK SC, sans-serif" font-size="25" fill="#ff7a00" text-anchor="start" font-weight="bold">日线</text>
<path d="M138 1242 L146 1258 H129 Z" fill="#ff7a00"/>
<rect x="38" y="1267" width="1153" height="2" fill="#c9d2dc"/>
<rect x="1191" y="1267" width="273" height="2" fill="#e4eaf0"/>
<rect x="1103" y="1298" width="361" height="2" fill="#c9d2dc"/>
<rect x="200" y="1268" width="114" height="28" fill="#ff6600"/>
<rect x="118" y="1270" width="2" height="30" fill="#c9d2dc"/>
<rect x="198" y="1270" width="2" height="30" fill="#c9d2dc"/>
<rect x="314" y="1270" width="2" height="30" fill="#c9d2dc"/>
<rect x="466" y="1270" width="2" height="30" fill="#c9d2dc"/>
<rect x="582" y="1270" width="2" height="30" fill="#c9d2dc"/>
<rect x="698" y="1270" width="2" height="30" fill="#c9d2dc"/>
<rect x="802" y="1270" width="2" height="30" fill="#c9d2dc"/>
<rect x="906" y="1270" width="2" height="30" fill="#c9d2dc"/>
<rect x="1046" y="1270" width="2" height="30" fill="#c9d2dc"/>
<rect x="1102" y="1270" width="2" height="30" fill="#c9d2dc"/>
<text x="56 80" y="1293" font-family="Liberation Sans, Noto Sans CJK SC, sans-serif" font-size="24" fill="#222d3d" text-anchor="start">指标</text>
<text x="135 159" y="1293" font-family="Liberation Sans, Noto Sans CJK SC, sans-serif" font-size="24" fill="#222d3d" text-anchor="start">模板</text>
<text x="216" y="1292" font-family="Liberation Serif, serif" font-size="22" fill="#fff" textLength="35" lengthAdjust="spacingAndGlyphs" style="font-kerning:none">VIP</text>
<text x="252 276" y="1293" font-family="Liberation Sans, Noto Sans CJK SC, sans-serif" font-size="24" fill="#fff" text-anchor="start">指标</text>
<text x="332.0" y="1292" font-family="Liberation Serif, serif" font-size="22" fill="#222d3d" textLength="120" lengthAdjust="spacingAndGlyphs" style="font-kerning:none">BARUPDN_UD</text>
<text x="484.0" y="1292" font-family="Liberation Serif, serif" font-size="22" fill="#222d3d" textLength="84" lengthAdjust="spacingAndGlyphs" style="font-kerning:none">BIAS_UD</text>
<text x="600.0" y="1292" font-family="Liberation Serif, serif" font-size="22" fill="#222d3d" textLength="84" lengthAdjust="spacingAndGlyphs" style="font-kerning:none">BOLL_UD</text>
<text x="716.0" y="1292" font-family="Liberation Serif, serif" font-size="22" fill="#222d3d" textLength="72" lengthAdjust="spacingAndGlyphs" style="font-kerning:none">CCI_UD</text>
<text x="820.0" y="1292" font-family="Liberation Serif, serif" font-size="22" fill="#222d3d" textLength="72" lengthAdjust="spacingAndGlyphs" style="font-kerning:none">DMI_UD</text>
<text x="924.0" y="1292" font-family="Liberation Serif, serif" font-size="22" fill="#222d3d" textLength="108" lengthAdjust="spacingAndGlyphs" style="font-kerning:none">INSIDE_UD</text>
<text x="1064.0" y="1292" font-family="Liberation Serif, serif" font-size="22" fill="#222d3d" textLength="24" lengthAdjust="spacingAndGlyphs" style="font-kerning:none">&gt;&gt;</text>
<rect x="1198" y="1274" width="9" height="2" fill="#3a3f55" opacity="0.75"/>
<rect x="1214" y="1274" width="8" height="2" fill="#3a3f55" opacity="0.75"/>
<rect x="1295" y="1274" width="8" height="2" fill="#3a3f55" opacity="0.75"/>
<rect x="1306" y="1274" width="14" height="2" fill="#3a3f55" opacity="0.75"/>
<rect x="1328" y="1274" width="8" height="2" fill="#3a3f55" opacity="0.75"/>
<rect x="1340" y="1274" width="11" height="2" fill="#3a3f55" opacity="0.75"/>
<text x="1335.7" y="1275" font-family="Liberation Sans, sans-serif" font-size="29" fill="#b9a898" text-anchor="start" font-weight="normal" style="font-kerning:none" opacity="0.9" textLength="99" lengthAdjust="spacing">EX678</text>
<text x="1334.2" y="1273.6" font-family="Liberation Sans, sans-serif" font-size="29" fill="#dbe6f4" text-anchor="start" font-weight="normal" style="font-kerning:none" textLength="99" lengthAdjust="spacing">EX678</text></svg></body></html>
